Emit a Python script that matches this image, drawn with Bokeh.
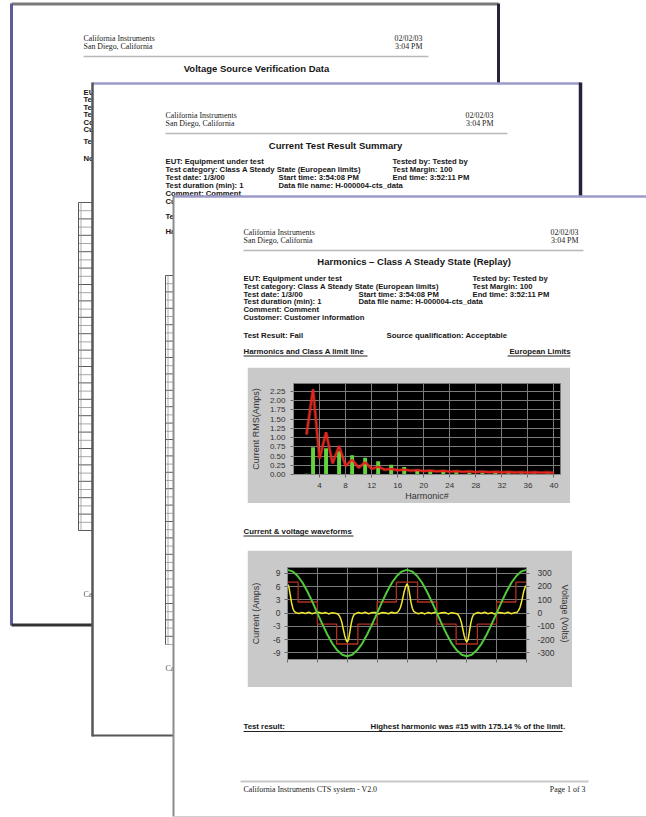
from bokeh.plotting import figure
from bokeh.models import Range1d, LinearAxis, FixedTicker
from bokeh.layouts import column
from bokeh.embed import file_html
from bokeh.resources import INLINE
from bokeh.core.properties import value

# ------------------------------------------------------------------ data
harmonic_order = [2, 3, 4, 5, 6, 7, 8, 9, 10, 11, 12, 13, 14, 15, 16, 17, 18, 19, 20, 21,
                  22, 23, 24, 25, 26, 27, 28, 29, 30, 31, 32, 33, 34, 35, 36, 37, 38, 39, 40]
class_a_limit = [1.08, 2.30, 0.43, 1.14, 0.30, 0.77, 0.23, 0.40, 0.184, 0.33, 0.153, 0.21,
                 0.131, 0.15, 0.115, 0.132, 0.102, 0.118, 0.092, 0.107, 0.084, 0.098, 0.077,
                 0.090, 0.071, 0.083, 0.066, 0.078, 0.061, 0.073, 0.058, 0.068, 0.054, 0.064,
                 0.051, 0.061, 0.048, 0.058, 0.046]
harmonic_current = [0.02, 0.74, 0.015, 0.71, 0.012, 0.63, 0.01, 0.52, 0.01, 0.45, 0.01, 0.36,
                    0.008, 0.263, 0.008, 0.20, 0.007, 0.12, 0.006, 0.09, 0.006, 0.07, 0.005,
                    0.06, 0.005, 0.05, 0.005, 0.045, 0.004, 0.04, 0.004, 0.035, 0.004, 0.03,
                    0.004, 0.03, 0.003, 0.025, 0.003]
harm_yticks = [0, 0.25, 0.5, 0.75, 1.0, 1.25, 1.5, 1.75, 2.0, 2.25]
harm_ylabels = ["0.00", "0.25", "0.50", "0.75", "1.00", "1.25", "1.50", "1.75", "2.00", "2.25"]
harm_xticks = [4, 8, 12, 16, 20, 24, 28, 32, 36, 40]

# waveform, phase in degrees over two mains cycles
volt_phase = [0, 15, 30, 45, 60, 75, 90, 105, 120, 135, 150, 165, 180, 195, 210, 225, 240, 255,
              270, 285, 300, 315, 330, 345, 360, 375, 390, 405, 420, 435, 450, 465, 480, 495,
              510, 525, 540, 555, 570, 585, 600, 615, 630, 645, 660, 675, 690, 705, 720]
voltage = [325, 314, 281, 230, 162, 84, 0, -84, -162, -230, -281, -314, -325, -314, -281, -230,
           -162, -84, 0, 84, 162, 230, 281, 314, 325, 314, 281, 230, 162, 84, 0, -84, -162,
           -230, -281, -314, -325, -314, -281, -230, -162, -84, 0, 84, 162, 230, 281, 314, 325]
cur_phase = [0, 4, 8, 12, 16, 20, 26, 34, 44, 54, 64, 74, 84, 94, 104, 114, 124, 134, 144, 152,
             156, 160, 164, 168, 172, 176, 180, 184, 188, 192, 196, 200, 206, 214, 224, 234,
             244, 254, 264, 274, 284, 294, 304, 314, 324, 332, 336, 340, 344, 348, 352, 356,
             360, 364, 368, 372, 376, 380, 386, 394, 404, 414, 424, 434, 444, 454, 464, 474,
             484, 494, 504, 512, 516, 520, 524, 528, 532, 536, 540, 544, 548, 552, 556, 560,
             566, 574, 584, 594, 604, 614, 624, 634, 644, 654, 664, 674, 684, 692, 696, 700,
             704, 708, 712, 716, 720]
current = [6.5, 6.0, 4.2, 2.4, 1.1, 0.4, 0.1, -0.1, 0.15, -0.1, 0.2, -0.15, 0.1, 0.2, -0.1,
           0.15, -0.2, 0.1, -0.05, -0.2, -0.6, -1.2, -2.2, -3.6, -5.0, -6.0, -6.6, -6.0, -4.2,
           -2.4, -1.1, -0.4, -0.1, 0.15, -0.1, 0.2, -0.15, 0.1, 0.15, -0.2, 0.1, 0.05, -0.15,
           0.2, -0.05, 0.2, 0.6, 1.2, 2.2, 3.6, 5.0, 6.0, 6.6, 6.0, 4.2, 2.4, 1.1, 0.4, 0.1,
           -0.15, 0.1, -0.2, 0.15, -0.1, 0.2, -0.15, 0.05, 0.15, -0.2, 0.1, -0.05, -0.2, -0.6,
           -1.2, -2.2, -3.6, -5.0, -6.0, -6.6, -6.0, -4.2, -2.4, -1.1, -0.4, -0.1, 0.15, -0.1,
           0.2, -0.15, 0.1, -0.2, 0.15, 0.05, -0.1, 0.2, -0.15, 0.1, 0.2, 0.6, 1.2, 2.2, 3.6,
           5.0, 5.9, 6.3]
step_phase = [0, 32, 90, 148, 212, 270, 328, 392, 450, 508, 572, 630, 688, 720]
step_current = [7.0, 2.5, -2.5, -7.0, -2.5, 2.5, 7.0, 2.5, -2.5, -7.0, -2.5, 2.5, 7.0, 7.0]
wave_xticks = [0, 90, 180, 270, 360, 450, 540, 630, 720]
cur_ticks = [-9, -6, -3, 0, 3, 6, 9]
volt_ticks = [-300, -200, -100, 0, 100, 200, 300]

SERIF = "Liberation Serif"
SANS = "Liberation Sans"
W, H = 646, 817
HDR = 7.9     # serif header size
TTL = 9.5     # page title size
INF = 7.7     # info block size
UND = 7.8     # underlined headings


def no_align(fig):
    if "frame_align" in fig.properties():
        fig.frame_align = False


# ------------------------------------------------------------------ background pages
bg = figure(width=W, height=H, x_range=Range1d(0, W), y_range=Range1d(H, 0),
            toolbar_location=None, output_backend="svg", min_border=0,
            x_axis_type=None, y_axis_type=None)
no_align(bg)
bg.grid.visible = False
bg.outline_line_color = None
bg.background_fill_color = "white"
bg.border_fill_color = "white"


def T(x, y, s, size=INF, bold=True, font=SANS, align="left", color="#161616"):
    bg.text(x=[x], y=[y], text=[s], text_font=value(font), text_font_size=value(f"{size}px"),
            text_font_style="bold" if bold else "normal", text_align=align,
            text_baseline="middle", text_color=color)


def L(x0, y0, x1, y1, color, w):
    bg.segment(x0=[x0], y0=[y0], x1=[x1], y1=[y1], line_color=color, line_width=w)


def page(l, r, t, b):
    bg.quad(left=[l], right=[r], top=[t], bottom=[b], fill_color="white", line_color=None)


def header(x0, x1, y, xr):
    T(x0, y, "California Instruments", HDR, False, SERIF, color="#222")
    T(x0, y + 8, "San Diego, California", HDR, False, SERIF, color="#222")
    T(xr, y, "02/02/03", HDR, False, SERIF, "right", "#222")
    T(xr, y + 8, "3:04 PM", HDR, False, SERIF, "right", "#222")
    L(x0, y + 18, x1, y + 18, "#b8b8b8", 1.5)


def table(x0, x1, y0, n, pitch):
    for i in range(n + 1):
        L(x0, y0 + i * pitch, x1, y0 + i * pitch, "#5a5a5a" if i % 2 == 0 else "#a8a8a8", 1)
    L(x0, y0, x0, y0 + n * pitch, "#555", 1)
    L(x0 + 2.5, y0, x0 + 2.5, y0 + n * pitch, "#999", 0.8)


# page 1
page(11, 498, 4, 624)
header(83, 428, 38, 422)
T(256, 68, "Voltage Source Verification Data", TTL, True, align="center")
for k, s in enumerate(["EUT: Equipment under test", "Test category: Class A",
                       "Test date: 1/3/00", "Test duration (min): 1", "Comment: Comment",
                       "Customer: Customer information"]):
    T(83, 92 + k * 7.4, s)
T(83, 141, "Test Result: Pass")
T(83, 158, "Notes")
table(78, 100, 202, 40, 8.2)
T(83, 594, "California Instruments CTS system", HDR, False, SERIF, color="#555")
L(11, 3.5, 498, 3.5, "#7a7a7a", 3)
L(11, 3, 11, 625, "#5d5d9e", 3)
L(498, 3, 498, 84, "#262638", 3)
L(11, 624.5, 93, 624.5, "#333333", 3)

# page 2
page(92, 580, 83, 735)
header(165, 507, 115, 493)
T(335, 145, "Current Test Result Summary", TTL, True, align="center")
T(165, 161, "EUT: Equipment under test")
T(165, 169, "Test category: Class A Steady State (European limits)")
T(165, 177, "Test date: 1/3/00")
T(165, 185, "Test duration (min): 1")
T(165, 193, "Comment: Comment")
T(165, 201, "Customer: Customer information")
T(165, 216, "Test Result: Fail")
T(165, 231, "Harmonics")
T(278, 177, "Start time: 3:54:08 PM")
T(278, 185, "Data file name: H-000004-cts_data")
T(392, 161, "Tested by: Tested by")
T(392, 169, "Test Margin: 100")
T(392, 177, "End time: 3:52:11 PM")
table(165, 185, 275, 45, 8.2)
T(165, 668, "California Instruments CTS system", HDR, False, SERIF, color="#555")
L(92, 83, 580, 83, "#9c9aca", 2.5)
L(580, 82, 580, 197, "#22223e", 3.5)
L(92, 82, 92, 736, "#565656", 2.5)
L(92, 735, 173, 735, "#565656", 2)

# page 3
page(173, 660, 196, 816)
header(243, 583, 232, 578)
T(414, 261, "Harmonics \u2013 Class A Steady State (Replay)", TTL, True, align="center")
rows3 = [278, 285.8, 293.6, 301.4, 309.2, 317]
T(243, rows3[0], "EUT: Equipment under test")
T(243, rows3[1], "Test category: Class A Steady State (European limits)")
T(243, rows3[2], "Test date: 1/3/00")
T(243, rows3[3], "Test duration (min): 1")
T(243, rows3[4], "Comment: Comment")
T(243, rows3[5], "Customer: Customer information")
T(358, rows3[2], "Start time: 3:54:08 PM")
T(358, rows3[3], "Data file name: H-000004-cts_data")
T(472, rows3[0], "Tested by: Tested by")
T(472, rows3[1], "Test Margin: 100")
T(472, rows3[2], "End time: 3:52:11 PM")
T(243, 335, "Test Result: Fail", UND)
T(386, 335, "Source qualification: Acceptable", UND)
T(243, 351, "Harmonics and Class A limit line", UND)
L(243, 355.5, 367, 355.5, "#222", 1)
T(570, 351, "European Limits", UND, align="right")
L(507, 355.5, 570, 355.5, "#222", 1)
T(243, 531, "Current & voltage waveforms", UND)
L(243, 535.5, 353, 535.5, "#222", 1)
T(243, 726, "Test result:", UND)
T(370, 726, "Highest harmonic was #15 with  175.14 % of the limit.", UND)
L(243, 731, 562, 731, "#222", 1.2)
L(240, 781, 588, 781, "#c8c8c8", 2)
T(243, 789, "California Instruments CTS system - V2.0", HDR, False, SERIF, color="#222")
T(585, 789, "Page 1 of 3", HDR, False, SERIF, "right", "#222")
L(173, 196, 646, 196, "#9c9aca", 2.5)
L(173, 195, 173, 816, "#8c8c8c", 2)
L(173, 816, 646, 816, "#cfcfcf", 1.2)


# ------------------------------------------------------------------ chart styling
def style_axis(ax, ticks, labels=None, standoff=4, size=8, label_standoff=3):
    ax.ticker = FixedTicker(ticks=ticks)
    if labels is not None:
        ax.major_label_overrides = {t: l for t, l in zip(ticks, labels)}
    ax.axis_line_color = "#8a8a8a"
    ax.major_tick_line_color = "#6a6a6a"
    ax.major_tick_in = 0
    ax.major_tick_out = 3
    ax.minor_tick_line_color = None
    ax.major_label_text_font_size = f"{size}px"
    ax.major_label_text_font = SANS
    ax.major_label_text_color = "#333"
    ax.major_label_standoff = standoff
    ax.axis_label_text_font_size = "9px"
    ax.axis_label_text_font = SANS
    ax.axis_label_text_font_style = "normal"
    ax.axis_label_text_color = "#333"
    ax.axis_label_standoff = label_standoff


HP_TOP, HP_H = 367, 136
WP_TOP, WP_H = 550, 137
LEFT = 247

# harmonics chart
hp = figure(width=323, height=HP_H, x_range=Range1d(0, 41), y_range=Range1d(0, 2.46),
            toolbar_location=None, output_backend="svg",
            min_border_left=44, min_border_right=10, min_border_top=16, min_border_bottom=28,
            background_fill_color="black", border_fill_color="#c9c9c9",
            margin=(HP_TOP - H, 0, 0, LEFT))
no_align(hp)
hp.outline_line_color = "#777"
style_axis(hp.xaxis[0], harm_xticks, standoff=5, size=8, label_standoff=0)
style_axis(hp.yaxis[0], harm_yticks, harm_ylabels, standoff=5, size=8, label_standoff=6)
hp.xaxis[0].axis_label = "Harmonic#"
hp.yaxis[0].axis_label = "Current RMS(Amps)"
hp.xgrid.ticker = FixedTicker(ticks=harm_xticks)
hp.ygrid.ticker = FixedTicker(ticks=harm_yticks)
hp.grid.grid_line_color = "#7c7c7c"
hp.grid.grid_line_width = 1
hp.vbar(x=harmonic_order, top=harmonic_current, width=0.6, fill_color="#62d43c",
        line_color=None)
hp.line(harmonic_order, class_a_limit, line_color="#ff5a40", line_width=3.5, line_alpha=0.35)
hp.line(harmonic_order, class_a_limit, line_color="#e8231b", line_width=1.8)

# waveform chart
wp = figure(width=325, height=WP_H, x_range=Range1d(0, 720), y_range=Range1d(-10.5, 10.3),
            toolbar_location=None, output_backend="svg",
            min_border_left=40, min_border_right=44, min_border_top=17, min_border_bottom=28,
            background_fill_color="black", border_fill_color="#c9c9c9",
            margin=(WP_TOP - HP_TOP - HP_H, 0, H - WP_TOP - WP_H, LEFT))
no_align(wp)
wp.outline_line_color = "#777"
wp.extra_y_ranges = {"volt": Range1d(-350, 343)}
style_axis(wp.xaxis[0], wave_xticks, [""] * len(wave_xticks))
style_axis(wp.yaxis[0], cur_ticks, [str(t) for t in cur_ticks], standoff=4, size=8.5,
           label_standoff=9)
wp.yaxis[0].axis_label = "Current (Amps)"
rax = LinearAxis(y_range_name="volt", axis_label="Voltage (Volts)")
style_axis(rax, volt_ticks, [str(t) for t in volt_ticks], standoff=8, size=8.5,
           label_standoff=2)
wp.add_layout(rax, "right")
wp.xgrid.ticker = FixedTicker(ticks=wave_xticks)
wp.ygrid.ticker = FixedTicker(ticks=cur_ticks)
wp.grid.grid_line_color = "#7c7c7c"
wp.step(step_phase, step_current, mode="after", line_color="#b3301c", line_width=1.3)
wp.line(cur_phase, current, line_color="#f4e82a", line_width=1.5)
wp.line(volt_phase, voltage, y_range_name="volt", line_color="#52c83c", line_width=2)

layout = column(bg, hp, wp)
open("out.html", "w").write(file_html(layout, INLINE))
